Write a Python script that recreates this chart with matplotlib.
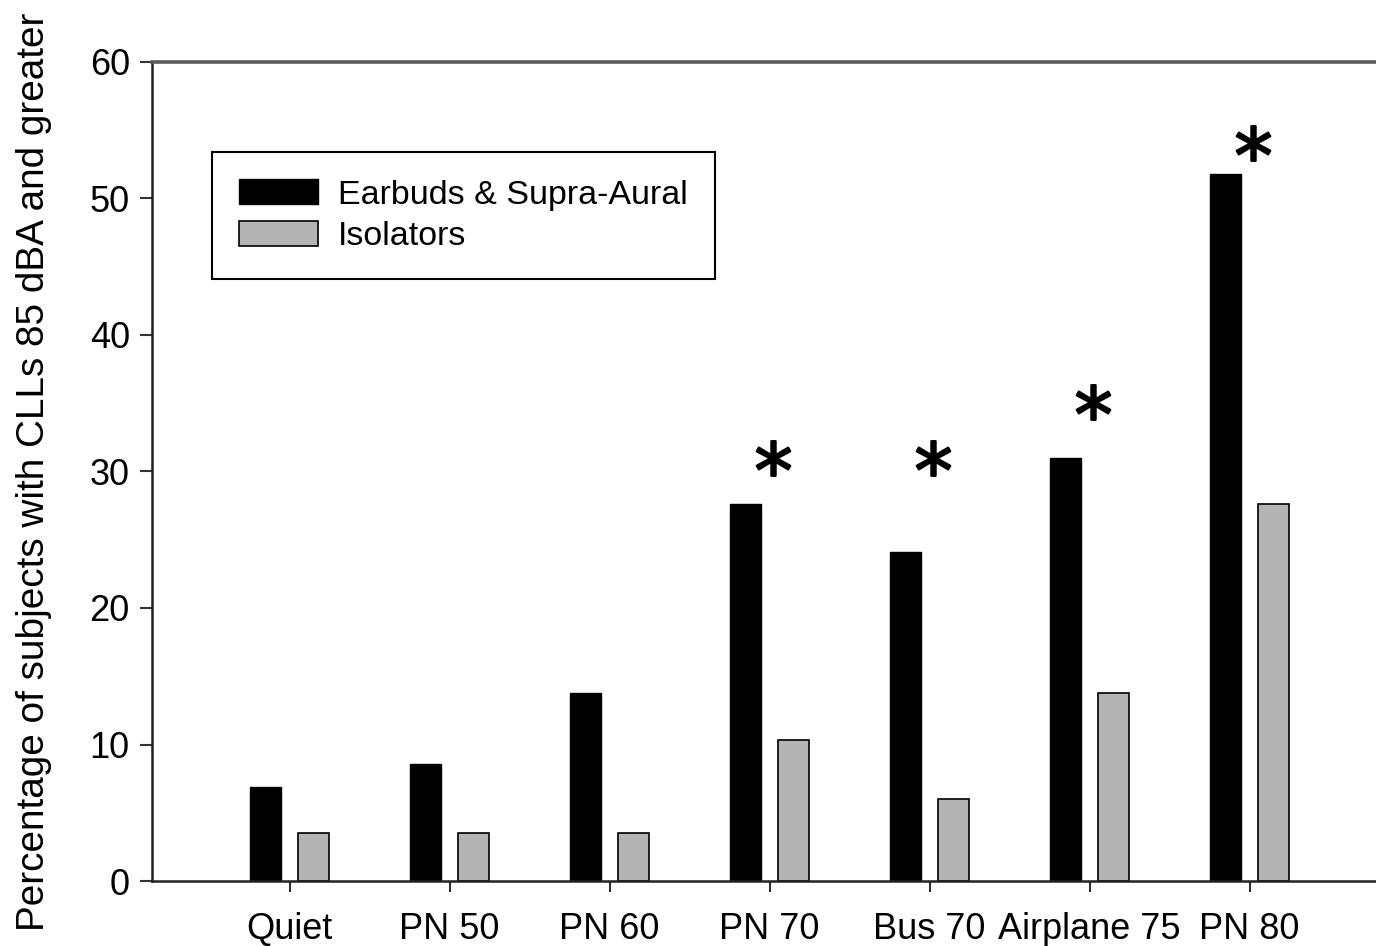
import matplotlib.pyplot as plt
import numpy as np

plt.rcParams['font.family'] = ['Liberation Sans', 'DejaVu Sans']

# values
categories = ['Quiet', 'PN 50', 'PN 60', 'PN 70', 'Bus 70', 'Airplane 75', 'PN 80']
earbuds = [6.9, 8.6, 13.8, 27.6, 24.1, 31.0, 51.8]
isolators = [3.5, 3.5, 3.5, 10.3, 6.0, 13.8, 27.6]

# significance markers (category, height of the asterisk)
star_categories = ['PN 70', 'Bus 70', 'Airplane 75', 'PN 80']
star_heights = [31.0, 31.0, 35.1, 54.1]


def main():
    fig = plt.figure(figsize=(13.76, 9.46), dpi=100)
    ax = fig.add_axes([0.1105, 0.0687, 0.8895, 0.8658])

    x = np.arange(len(categories))
    width = 0.19
    ax.bar(x - 0.15, earbuds, width, color='black', edgecolor='black',
           linewidth=1, label='Earbuds & Supra-Aural')
    ax.bar(x + 0.15, isolators, width, color='#b4b4b4', edgecolor='black',
           linewidth=1.2, label='Isolators')

    star_x = [categories.index(c) + 0.02 for c in star_categories]
    ax.plot(star_x, star_heights, linestyle='none', marker='$*$',
            markersize=25, color='black', markeredgewidth=1.6)

    ax.set_xlim(-0.86, 6.79)
    ax.set_ylim(0, 60)
    ax.set_xticks(x)
    ax.set_xticklabels(categories, fontsize=26)
    ax.set_yticks(np.arange(0, 61, 10))
    ax.tick_params(axis='y', labelsize=26, length=9, width=1.5, pad=7, color='#333333')
    ax.tick_params(axis='x', length=8, width=1.5, pad=14, color='#333333')

    for side in ['left', 'bottom']:
        ax.spines[side].set_linewidth(1.8)
        ax.spines[side].set_color('#222222')
    ax.spines['top'].set_linewidth(2.6)
    ax.spines['top'].set_color('#5a5a5a')
    ax.spines['right'].set_visible(False)

    ax.set_ylabel('Percentage of subjects with CLLs 85 dBA and greater', fontsize=27.9)
    ax.yaxis.set_label_coords(-0.082, 0.499)

    leg = ax.legend(loc='upper left', bbox_to_anchor=(0.049, 0.890), fontsize=24.5,
                    fancybox=False, framealpha=1, edgecolor='black',
                    handlelength=2.3, handleheight=0.75, handletextpad=0.6,
                    borderpad=0.8, labelspacing=0.3, borderaxespad=0)
    leg.get_frame().set_linewidth(1.5)

    fig.savefig('out.png', dpi=100)


if __name__ == "__main__":
    main()
